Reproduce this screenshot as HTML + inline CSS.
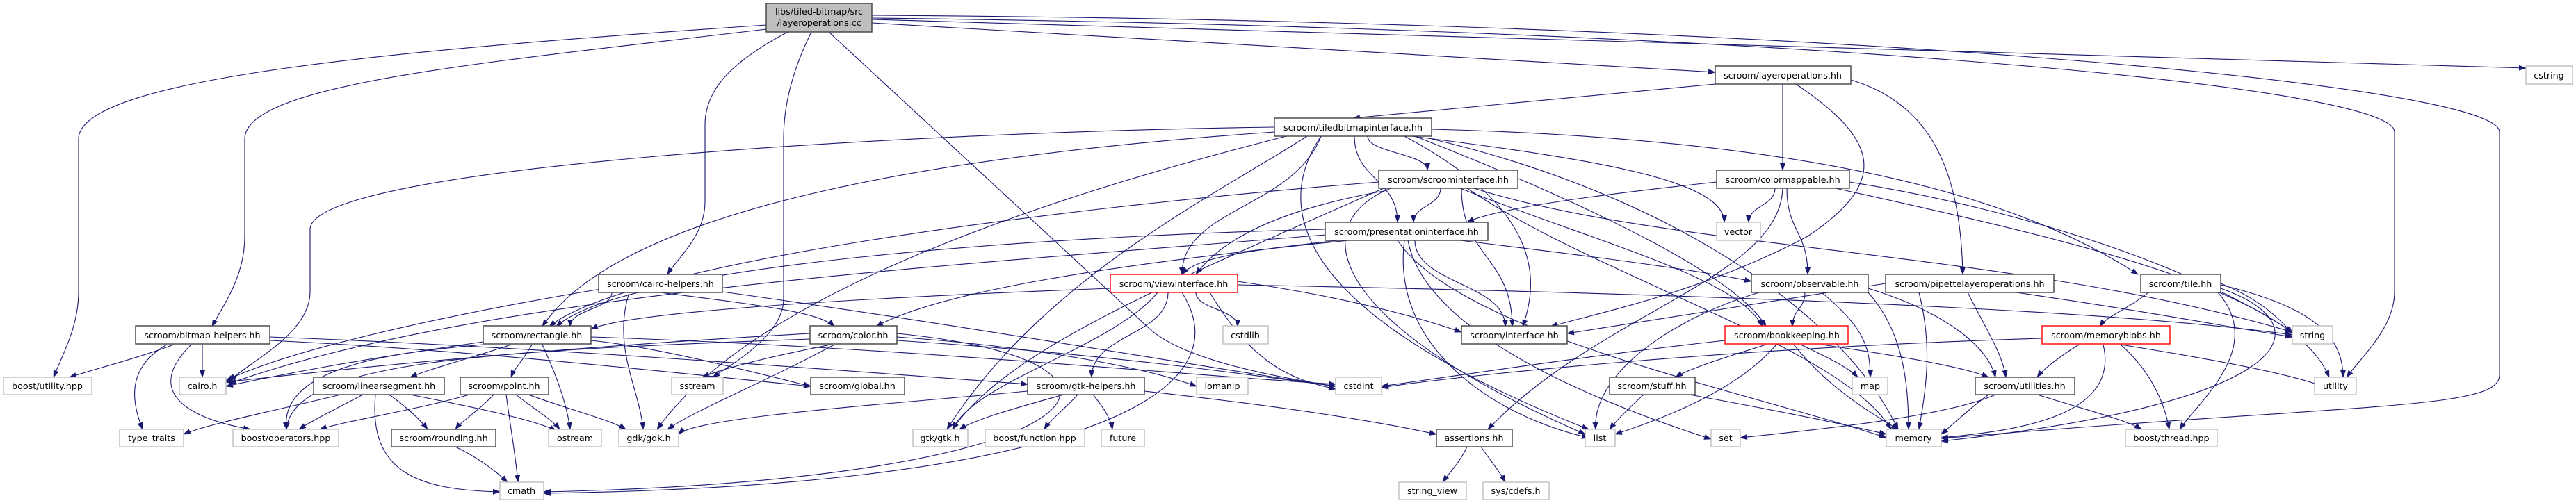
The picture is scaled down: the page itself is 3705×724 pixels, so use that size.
<!DOCTYPE html>
<html><head><meta charset="utf-8"><style>
html,body{margin:0;padding:0;background:#fff;}
svg{display:block;}
text{font-family:"DejaVu Sans","Liberation Sans",sans-serif;font-size:12.7px;fill:#000;text-anchor:middle;}
.e{fill:none;stroke:#191970;stroke-width:1.1;marker-end:url(#ah);}
.n{fill:#fff;stroke:#404040;stroke-width:1.4;}
.g{fill:#fff;stroke:#bfbfbf;stroke-width:1.4;}
.r{fill:#fff;stroke:#ff0000;stroke-width:1.4;}
</style></head><body>
<svg width="3705" height="724" viewBox="0 0 3705 724" xmlns="http://www.w3.org/2000/svg">
<defs><marker id="ah" markerUnits="userSpaceOnUse" markerWidth="11" markerHeight="8" refX="10" refY="4" orient="auto"><path d="M0,0 L11,4 L0,8 z" fill="#191970"/></marker></defs>
<g>
<!-- top node edges -->
<path class="e" d="M1102,36 C600,70 113,110 113,200 L113,420 C113,470 90,510 77,543"/>
<path class="e" d="M1102,42 C700,90 352,120 352,200 L352,340 C352,400 320,440 305,470"/>
<path class="e" d="M1133,46 C1050,90 1014,130 1014,180 L1014,290 C1014,340 975,370 960,395"/>
<path class="e" d="M1167,46 C1140,100 1127,150 1127,200 L1127,430 C1127,480 1060,520 1025,543"/>
<path class="e" d="M1192,46 L1650,470 C1700,520 1850,545 1921,556"/>
<path class="e" d="M1254,33 L2467,104"/>
<path class="e" d="M1254,28 L3633,98"/>
<path class="e" d="M1254,26 C2500,40 3444,120 3444,190 L3444,420 C3444,470 3400,510 3375,543"/>
<path class="e" d="M1254,22 C2600,30 3595,120 3595,190 L3595,540 C3595,590 3400,580 2792,631"/>
<!-- layeroperations.hh -->
<path class="e" d="M2467,121 L1946,170"/>
<path class="e" d="M2564,121 L2564,245"/>
<path class="e" d="M2583,121 C2700,200 2720,260 2600,340 C2450,420 2300,450 2230,470"/>
<path class="e" d="M2662,115 C2780,150 2820,250 2823,395"/>
<!-- tiledbitmapinterface -->
<path class="e" d="M1967,196 C1967,220 2053,221 2053,245"/>
<path class="e" d="M1948,196 C1948,258 2010,258 2010,320"/>
<path class="e" d="M1900,196 C1860,300 1700,300 1700,395"/>
<path class="e" d="M2020,196 C2215,300 2215,400 2190,470"/>
<path class="e" d="M1833,190 C1400,220 900,290 780,470"/>
<path class="e" d="M1833,183 C1300,190 446,240 446,330 L446,420 C446,480 360,520 330,548"/>
<path class="e" d="M1850,196 C1600,260 1100,400 945,618"/>
<path class="e" d="M1880,196 C1750,280 1500,400 1362,618"/>
<path class="e" d="M2030,196 C2300,230 2480,260 2480,320"/>
<path class="e" d="M2035,196 C2300,300 2500,400 2540,470"/>
<path class="e" d="M2059,200 C2400,280 2650,450 2730,618"/>
<path class="e" d="M2059,186 C2600,200 2900,280 3075,395"/>
<path class="e" d="M1900,196 C1830,300 1860,450 2285,618"/>
<!-- scroominterface -->
<path class="e" d="M2072,271 C2072,296 2033,296 2033,320"/>
<path class="e" d="M1990,275 C1850,300 1760,340 1720,395"/>
<path class="e" d="M2102,271 C2102,370 2175,370 2175,470"/>
<path class="e" d="M2100,271 C2300,350 2500,400 2535,470"/>
<path class="e" d="M2110,271 C2300,400 2650,500 2720,618"/>
<path class="e" d="M2120,271 C2400,360 2900,360 3297,478"/>
<path class="e" d="M2000,271 C1880,320 1900,460 2280,625"/>
<path class="e" d="M1990,271 C1700,400 1450,500 1370,618"/>
<path class="e" d="M1983,262 C1500,300 900,380 790,470"/>
<!-- colormappable -->
<path class="e" d="M2469,262 C2300,280 2150,300 2110,320"/>
<path class="e" d="M2553,271 C2553,296 2515,296 2515,320"/>
<path class="e" d="M2570,271 C2570,333 2600,333 2600,395"/>
<path class="e" d="M2564,271 C2560,400 2300,450 2140,618"/>
<path class="e" d="M2660,262 C2900,300 3150,380 3297,478"/>
<path class="e" d="M2640,271 C3000,350 3300,420 3350,543"/>
<!-- presentationinterface -->
<path class="e" d="M1925,346 C1800,360 1720,370 1700,395"/>
<path class="e" d="M2035,346 C2035,408 2165,408 2165,470"/>
<path class="e" d="M1906,330 C1500,340 900,380 800,470"/>
<path class="e" d="M1906,338 C1400,380 700,420 330,552"/>
<path class="e" d="M2100,346 C2300,370 2450,390 2519,405"/>
<path class="e" d="M2020,346 C2000,500 2150,600 2285,630"/>
<path class="e" d="M2025,346 C2050,480 2300,580 2461,632"/>
<path class="e" d="M2010,346 C2100,480 2500,560 2713,630"/>
<path class="e" d="M1940,346 C1600,380 1350,420 1260,470"/>
<!-- viewinterface -->
<path class="e" d="M1597,415 C1200,430 900,450 850,474"/>
<path class="e" d="M1780,405 C1950,430 2050,460 2102,478"/>
<path class="e" d="M1720,421 C1720,445 1780,445 1780,470"/>
<path class="e" d="M1680,421 C1680,482 1570,482 1570,543"/>
<path class="e" d="M1665,421 C1600,500 1400,550 1370,618"/>
<path class="e" d="M1740,421 C1800,520 1850,545 1921,560"/>
<path class="e" d="M1700,421 C1800,580 1500,700 782,710"/>
<path class="e" d="M1780,410 C2300,420 3000,440 3297,482"/>
<!-- cairo-helpers -->
<path class="e" d="M880,421 C880,445 820,445 820,470"/>
<path class="e" d="M950,421 C1100,440 1180,450 1200,470"/>
<path class="e" d="M870,415 C600,460 400,510 325,548"/>
<path class="e" d="M905,421 C880,500 920,560 925,618"/>
<path class="e" d="M1039,420 C1400,470 1800,540 1921,556"/>
<!-- observable -->
<path class="e" d="M2596,421 C2596,445 2578,445 2578,470"/>
<path class="e" d="M2620,421 C2680,470 2690,500 2690,543"/>
<path class="e" d="M2687,421 C2740,480 2745,560 2745,618"/>
<path class="e" d="M2687,415 C2800,450 2860,500 2870,543"/>
<path class="e" d="M2530,421 C2400,460 2290,540 2295,618"/>
<!-- pipette -->
<path class="e" d="M2712,408 C2500,440 2350,465 2254,480"/>
<path class="e" d="M2830,421 C2860,480 2880,510 2885,543"/>
<path class="e" d="M2760,421 C2780,500 2770,560 2760,618"/>
<path class="e" d="M2900,421 C3100,450 3200,470 3297,485"/>
<!-- tile -->
<path class="e" d="M3090,421 C3060,445 3030,455 3020,470"/>
<path class="e" d="M3194,408 C3250,430 3280,460 3297,480"/>
<path class="e" d="M3194,410 C3320,440 3370,480 3370,543"/>
<path class="e" d="M3194,415 C3350,470 3300,580 2792,635"/>
<path class="e" d="M3190,421 C3260,500 3160,580 3135,618"/>
<!-- bitmap-helpers -->
<path class="e" d="M250,496 C200,515 140,530 100,543"/>
<path class="e" d="M291,496 L291,543"/>
<path class="e" d="M240,496 C180,530 190,580 205,618"/>
<path class="e" d="M275,496 C210,560 260,600 360,618"/>
<path class="e" d="M388,490 C700,505 1000,540 1166,556"/>
<path class="e" d="M388,485 C800,500 1300,540 1478,553"/>
<!-- rectangle -->
<path class="e" d="M735,496 C680,515 620,530 590,543"/>
<path class="e" d="M765,496 C755,515 740,530 735,543"/>
<path class="e" d="M780,496 C800,540 815,580 820,618"/>
<path class="e" d="M694,496 C600,505 400,520 412,618"/>
<path class="e" d="M695,492 C500,520 400,540 325,556"/>
<path class="e" d="M850,490 C950,500 1100,540 1166,556"/>
<path class="e" d="M850,485 C1300,500 1700,540 1921,553"/>
<!-- color -->
<path class="e" d="M1195,496 C1100,515 1040,530 1010,543"/>
<path class="e" d="M1200,496 C1100,550 1000,590 960,618"/>
<path class="e" d="M1165,480 C800,500 500,530 325,550"/>
<path class="e" d="M1165,488 C700,505 420,520 412,618"/>
<path class="e" d="M1290,485 C1500,500 1650,530 1721,556"/>
<path class="e" d="M1290,480 C1700,520 1600,690 782,708"/>
<path class="e" d="M1290,490 C1600,510 1800,540 1921,556"/>
<!-- bookkeeping -->
<path class="e" d="M2540,496 C2480,515 2430,530 2410,543"/>
<path class="e" d="M2590,496 C2630,515 2660,530 2672,543"/>
<path class="e" d="M2555,496 C2500,560 2400,600 2323,625"/>
<path class="e" d="M2580,496 C2630,560 2700,600 2730,618"/>
<path class="e" d="M2620,496 C2750,515 2830,530 2860,543"/>
<path class="e" d="M2481,490 C2300,510 2100,540 1987,556"/>
<!-- memoryblobs -->
<path class="e" d="M2990,496 C2960,515 2940,530 2930,543"/>
<path class="e" d="M3050,496 C3200,520 3300,540 3340,556"/>
<path class="e" d="M3025,496 C3050,600 2900,620 2792,630"/>
<path class="e" d="M3050,496 C3100,540 3115,590 3120,618"/>
<path class="e" d="M2937,487 C2500,500 2100,540 1987,558"/>
<!-- linearsegment, point, rounding -->
<path class="e" d="M490,568 C400,590 300,610 264,625"/>
<path class="e" d="M522,568 C480,590 450,605 430,618"/>
<path class="e" d="M560,568 C590,590 605,605 615,618"/>
<path class="e" d="M590,568 C700,590 770,605 800,620"/>
<path class="e" d="M540,568 C530,680 600,705 719,708"/>
<path class="e" d="M675,568 C600,590 500,605 460,618"/>
<path class="e" d="M710,568 C690,590 665,605 655,618"/>
<path class="e" d="M742,568 C770,590 795,605 805,618"/>
<path class="e" d="M760,568 C820,590 880,605 900,618"/>
<path class="e" d="M728,568 C735,620 742,660 745,694"/>
<path class="e" d="M655,643 C690,660 715,680 730,694"/>
<!-- gtk-helpers -->
<path class="e" d="M1478,563 C1300,580 1000,600 976,625"/>
<path class="e" d="M1530,568 C1450,590 1400,605 1380,618"/>
<path class="e" d="M1550,568 C1530,590 1510,605 1502,618"/>
<path class="e" d="M1572,568 C1590,590 1598,605 1600,618"/>
<path class="e" d="M1646,563 C1800,580 1950,600 2066,625"/>
<!-- stuff, utilities, assertions -->
<path class="e" d="M2364,568 C2340,590 2325,605 2315,618"/>
<path class="e" d="M2430,568 C2550,590 2650,610 2713,625"/>
<path class="e" d="M2870,568 C2800,600 2600,620 2503,630"/>
<path class="e" d="M2930,568 C3000,590 3060,605 3080,618"/>
<path class="e" d="M2860,568 C2830,590 2810,610 2792,625"/>
<path class="e" d="M2110,643 C2100,665 2085,680 2075,694"/>
<path class="e" d="M2130,643 C2145,665 2158,680 2165,694"/>
</g>
<g>
<rect x="1102" y="5" width="152" height="41" fill="#bfbfbf" stroke="#404040" stroke-width="1.4"/>
<text x="1178" y="21">libs/tiled-bitmap/src</text>
<text x="1178" y="37">/layeroperations.cc</text>

<rect class="n" x="2467" y="95" width="195" height="26"/><text x="2564" y="113">scroom/layeroperations.hh</text>
<rect class="g" x="3633" y="95" width="67" height="26"/><text x="3666" y="113">cstring</text>
<rect class="n" x="1833" y="170" width="226" height="26"/><text x="1946" y="188">scroom/tiledbitmapinterface.hh</text>
<rect class="n" x="1983" y="245" width="200" height="26"/><text x="2083" y="263">scroom/scroominterface.hh</text>
<rect class="n" x="2469" y="245" width="191" height="26"/><text x="2564" y="263">scroom/colormappable.hh</text>
<rect class="n" x="1906" y="320" width="234" height="26"/><text x="2023" y="338">scroom/presentationinterface.hh</text>
<rect class="g" x="2469" y="320" width="63" height="26"/><text x="2500" y="338">vector</text>
<rect class="n" x="861" y="395" width="178" height="26"/><text x="950" y="413">scroom/cairo-helpers.hh</text>
<rect class="r" x="1597" y="395" width="183" height="26"/><text x="1688" y="413">scroom/viewinterface.hh</text>
<rect class="n" x="2519" y="395" width="168" height="26"/><text x="2603" y="413">scroom/observable.hh</text>
<rect class="n" x="2712" y="395" width="242" height="26"/><text x="2833" y="413">scroom/pipettelayeroperations.hh</text>
<rect class="n" x="3079" y="395" width="115" height="26"/><text x="3136" y="413">scroom/tile.hh</text>

<rect class="n" x="195" y="469" width="193" height="26"/><text x="291" y="487">scroom/bitmap-helpers.hh</text>
<rect class="n" x="695" y="469" width="155" height="26"/><text x="772" y="487">scroom/rectangle.hh</text>
<rect class="n" x="1165" y="469" width="125" height="26"/><text x="1227" y="487">scroom/color.hh</text>
<rect class="g" x="1759" y="469" width="65" height="26"/><text x="1791" y="487">cstdlib</text>
<rect class="n" x="2102" y="469" width="152" height="26"/><text x="2178" y="487">scroom/interface.hh</text>
<rect class="r" x="2481" y="469" width="177" height="26"/><text x="2570" y="487">scroom/bookkeeping.hh</text>
<rect class="r" x="2937" y="469" width="184" height="26"/><text x="3029" y="487">scroom/memoryblobs.hh</text>
<rect class="g" x="3297" y="469" width="58" height="26"/><text x="3326" y="487">string</text>

<rect class="g" x="5" y="543" width="127" height="25"/><text x="68" y="560">boost/utility.hpp</text>
<rect class="g" x="258" y="543" width="67" height="25"/><text x="291" y="560">cairo.h</text>
<rect class="n" x="451" y="543" width="188" height="25"/><text x="545" y="560">scroom/linearsegment.hh</text>
<rect class="n" x="662" y="543" width="127" height="25"/><text x="725" y="560">scroom/point.hh</text>
<rect class="g" x="966" y="543" width="74" height="25"/><text x="1003" y="560">sstream</text>
<rect class="n" x="1166" y="543" width="135" height="25"/><text x="1233" y="560">scroom/global.hh</text>
<rect class="n" x="1478" y="543" width="168" height="25"/><text x="1562" y="560">scroom/gtk-helpers.hh</text>
<rect class="g" x="1721" y="543" width="74" height="25"/><text x="1758" y="560">iomanip</text>
<rect class="g" x="1921" y="543" width="66" height="25"/><text x="1954" y="560">cstdint</text>
<rect class="n" x="2315" y="543" width="123" height="25"/><text x="2376" y="560">scroom/stuff.hh</text>
<rect class="g" x="2664" y="543" width="51" height="25"/><text x="2690" y="560">map</text>
<rect class="n" x="2841" y="543" width="143" height="25"/><text x="2912" y="560">scroom/utilities.hh</text>
<rect class="g" x="3329" y="543" width="60" height="25"/><text x="3359" y="560">utility</text>

<rect class="g" x="172" y="618" width="92" height="25"/><text x="218" y="635">type_traits</text>
<rect class="g" x="335" y="618" width="152" height="25"/><text x="411" y="635">boost/operators.hpp</text>
<rect class="n" x="563" y="618" width="150" height="25"/><text x="638" y="635">scroom/rounding.hh</text>
<rect class="g" x="789" y="618" width="76" height="25"/><text x="827" y="635">ostream</text>
<rect class="g" x="890" y="618" width="86" height="25"/><text x="933" y="635">gdk/gdk.h</text>
<rect class="g" x="1313" y="618" width="79" height="25"/><text x="1352" y="635">gtk/gtk.h</text>
<rect class="g" x="1417" y="618" width="143" height="25"/><text x="1488" y="635">boost/function.hpp</text>
<rect class="g" x="1584" y="618" width="62" height="25"/><text x="1615" y="635">future</text>
<rect class="n" x="2066" y="618" width="109" height="25"/><text x="2120" y="635">assertions.hh</text>
<rect class="g" x="2280" y="618" width="43" height="25"/><text x="2301" y="635">list</text>
<rect class="g" x="2461" y="618" width="42" height="25"/><text x="2482" y="635">set</text>
<rect class="g" x="2713" y="618" width="79" height="25"/><text x="2752" y="635">memory</text>
<rect class="g" x="3057" y="618" width="132" height="25"/><text x="3123" y="635">boost/thread.hpp</text>

<rect class="g" x="719" y="694" width="63" height="25"/><text x="750" y="711">cmath</text>
<rect class="g" x="2012" y="694" width="97" height="25"/><text x="2060" y="711">string_view</text>
<rect class="g" x="2133" y="694" width="95" height="25"/><text x="2180" y="711">sys/cdefs.h</text>
</g>
</svg>
</body></html>
